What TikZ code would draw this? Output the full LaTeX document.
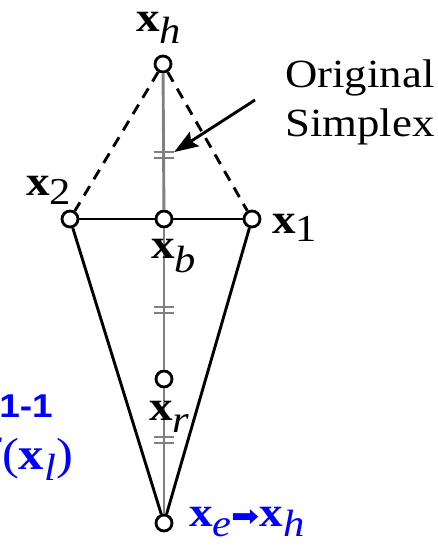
\documentclass[tikz,border=0pt]{standalone}
\usepackage{fontspec}
\setmainfont{Liberation Serif}
\newfontfamily\labelsans{Liberation Sans}
\newfontfamily\symbolfont{DejaVu Sans}
\usetikzlibrary{arrows.meta, positioning}
\definecolor{notegray}{RGB}{128,128,128}
\newcommand\bigfont{\fontsize{42}{46}\selectfont}
% bold x with a lowered subscript
\newcommand\vecx[2][12pt]{\textbf{x}\raisebox{-#1}{\fontsize{38}{40}\selectfont #2}}
% the letters of the figure are set a little wide
\newcommand\wide[1]{\scalebox{1.12}[1]{#1}}
\tikzset{
  vtx/.style={circle, draw=black, fill=white, line width=2.8pt,
              inner sep=0pt, minimum size=16pt},
  edge/.style={line width=2.9pt, black},
  dedge/.style={line width=2.9pt, black, dash pattern=on 11pt off 8pt},
  axis/.style={line width=2.9pt, notegray},
  tickmark/.style={inner sep=0pt, minimum width=20pt, minimum height=5.5pt},
  tickline/.style={line width=2.6pt, notegray},
  lbl/.style={inner sep=0pt, font=\bigfont},
  bluelbl/.style={inner sep=0pt, font=\bigfont, text=blue},
  pointer/.style={line width=2.9pt, -{Stealth[length=24pt, width=17pt, inset=4pt]}}
}
\begin{document}
\begin{tikzpicture}[x=1pt, y=-1pt]
  \path[use as bounding box, clip] (0,0) rectangle (438,545);

  % vertices
  \node[vtx] (xh) at (163,64)  {};
  \node[vtx] (x2) at (70,219)  {};
  \node[vtx] (xb) at (164,219) {};
  \node[vtx] (x1) at (252,219) {};
  \node[vtx] (xr) at (164,379) {};
  \node[vtx] (xe) at (164,523) {};

  % equal-length marks on the axis
  \node[tickmark] (t1) at (164,155) {};
  \node[tickmark] (t2) at (164,310) {};
  \node[tickmark] (t3) at (164,440) {};

  % axis through the centroid
  \draw[axis] (xh) -- (xb);
  \draw[axis] (xb) -- (xr);
  \draw[axis] (xr) -- (xe);
  \foreach \t in {t1,t2,t3}
    \draw[tickline] (\t.north west) -- (\t.north east)
                    (\t.south west) -- (\t.south east);

  % original simplex
  \draw[dedge] (xh) -- (x2);
  \draw[dedge] (xh) -- (x1);
  \draw[edge] (x2) -- (xb);
  \draw[edge] (xb) -- (x1);

  % expanded simplex
  \draw[edge] (x2) -- (xe);
  \draw[edge] (x1) -- (xe);

  % labels
  \node[lbl, anchor=base west] (lh) at (136,32)  {\wide{\vecx{\textit{h}}}};
  \node[lbl, anchor=base west] (l2) at (26,196)  {\wide{\vecx[9pt]{2}}};
  \node[lbl, anchor=base west] (l1) at (272,233) {\wide{\vecx[8pt]{1}}};
  \node[lbl, anchor=base west] (lb) at (151,258) {\wide{\vecx[14pt]{\textit{b}}}};
  \node[lbl, anchor=base west] (lr) at (149,420) {\wide{\vecx{\textit{r}}}};
  \node[bluelbl, anchor=base west] (le) at (189,526)
    {\wide{\vecx[10pt]{\textit{e}}{\symbolfont\fontsize{30}{30}\selectfont ➡}\vecx[10pt]{\textit{h}}}};

  \node[lbl, anchor=base west, align=left,
        font=\fontsize{40}{49}\selectfont] (orig) at (285,137)
    {\wide{Original}\\\wide{Simplex}};
  \coordinate (tail) at (255,100);
  \draw[pointer] (tail) -- (t1.north east);

  % case label, cut by the frame
  \node[bluelbl, anchor=base east, font=\labelsans\bfseries\fontsize{33}{36}\selectfont]
    (case) at (53,417) {\wide{1-1}};
  \node[bluelbl, anchor=base east, font=\fontsize{45}{48}\selectfont] (cond) at (73,469)
    {\wide{\textit{f}(\vecx[11pt]{\textit{l}})}};
\end{tikzpicture}
\end{document}
